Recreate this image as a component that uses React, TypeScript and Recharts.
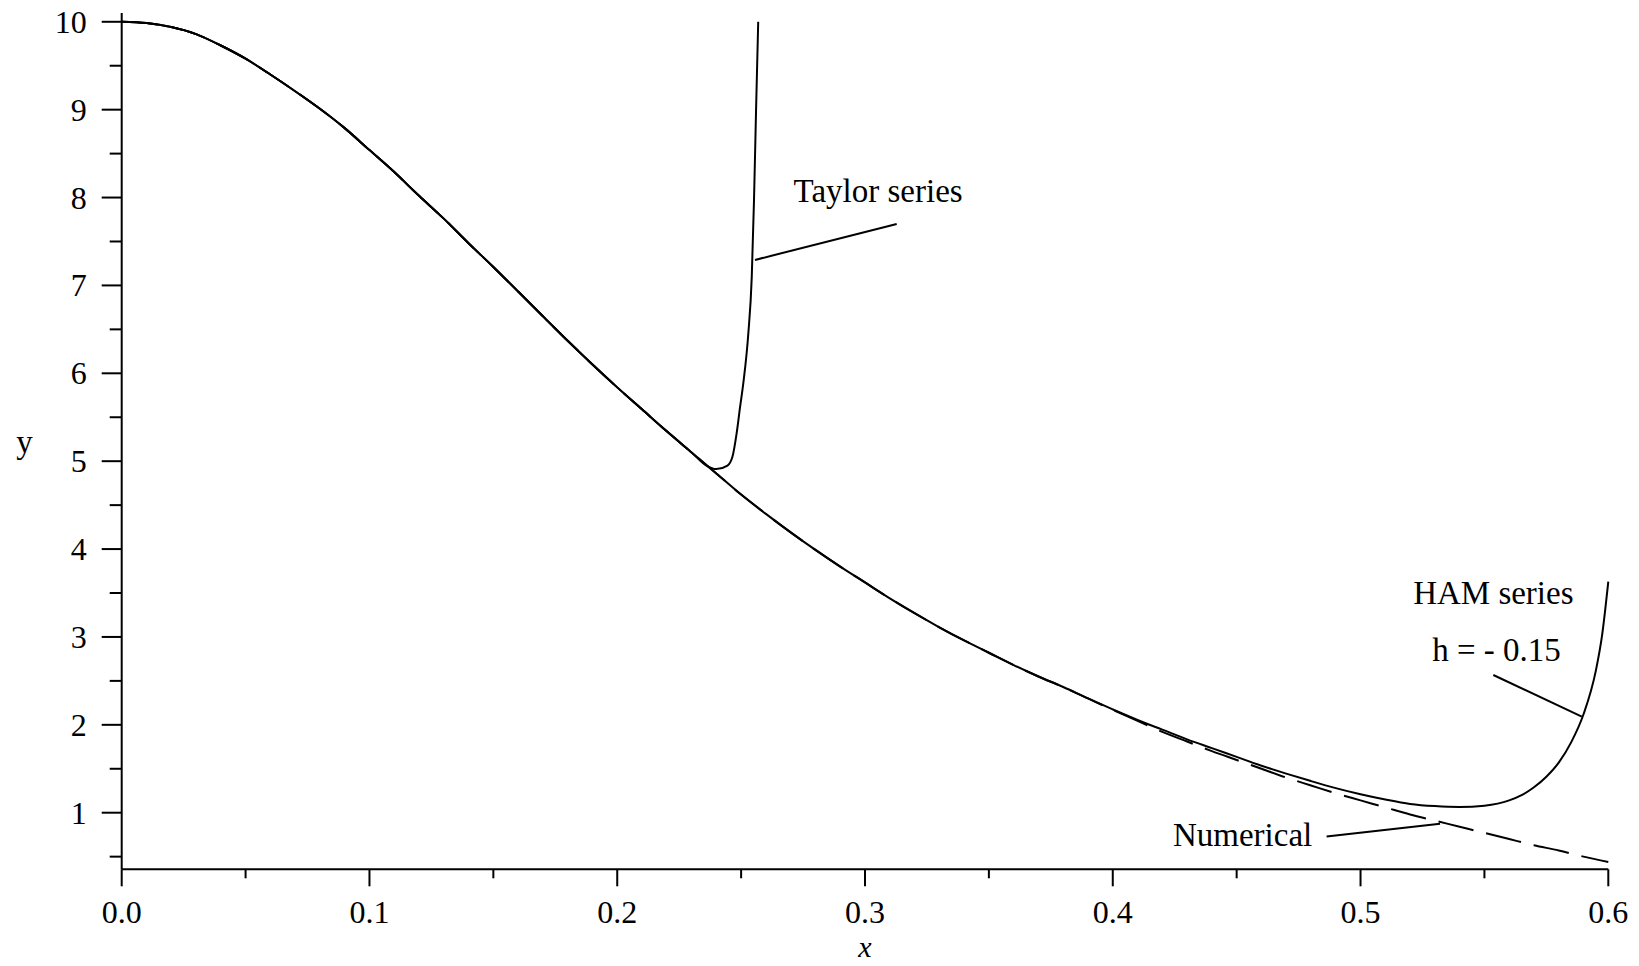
import React from 'react';
import { LineChart, Line, XAxis, YAxis, ReferenceLine, ReferenceDot } from 'recharts';

// ---- data ----
const numX = [0, 0.01, 0.02, 0.03, 0.04, 0.05, 0.06, 0.07, 0.08, 0.09, 0.1, 0.11, 0.12, 0.13, 0.14, 0.15, 0.16, 0.17, 0.18, 0.19, 0.2, 0.21, 0.22, 0.23, 0.24, 0.25, 0.26, 0.27, 0.28, 0.29, 0.3, 0.31, 0.32, 0.33, 0.34, 0.35, 0.36, 0.37, 0.38, 0.39, 0.4, 0.41, 0.42, 0.43, 0.44, 0.45, 0.46, 0.47, 0.48, 0.49, 0.5, 0.51, 0.52, 0.53, 0.54, 0.55, 0.56, 0.57, 0.58, 0.59, 0.6];
const numY = [10, 9.985, 9.94, 9.86, 9.73, 9.58, 9.4, 9.21, 9.01, 8.79, 8.54, 8.29, 8.02, 7.76, 7.48, 7.21, 6.93, 6.65, 6.37, 6.1, 5.84, 5.59, 5.34, 5.1, 4.86, 4.62, 4.4, 4.19, 3.99, 3.8, 3.62, 3.44, 3.27, 3.11, 2.96, 2.82, 2.68, 2.55, 2.43, 2.3, 2.17, 2.045, 1.92, 1.81, 1.7, 1.6, 1.5, 1.4, 1.31, 1.22, 1.14, 1.06, 0.98, 0.91, 0.84, 0.77, 0.7, 0.63, 0.57, 0.5, 0.44];

const hamX = [0, 0.01, 0.02, 0.03, 0.04, 0.05, 0.06, 0.07, 0.08, 0.09, 0.1, 0.11, 0.12, 0.13, 0.14, 0.15, 0.16, 0.17, 0.18, 0.19, 0.2, 0.21, 0.22, 0.23, 0.24, 0.25, 0.26, 0.27, 0.28, 0.29, 0.3, 0.31, 0.32, 0.33, 0.34, 0.35, 0.36, 0.37, 0.38, 0.39, 0.4, 0.41, 0.42, 0.43, 0.44, 0.45, 0.46, 0.47, 0.48, 0.49, 0.5, 0.51, 0.52, 0.53, 0.54, 0.55, 0.56, 0.565, 0.57, 0.575, 0.58, 0.585, 0.59, 0.595, 0.5975, 0.6];
const hamY = [10, 9.985, 9.94, 9.86, 9.73, 9.58, 9.4, 9.21, 9.01, 8.79, 8.54, 8.29, 8.02, 7.76, 7.48, 7.21, 6.93, 6.65, 6.37, 6.1, 5.84, 5.59, 5.34, 5.1, 4.86, 4.62, 4.4, 4.19, 3.99, 3.8, 3.62, 3.44, 3.27, 3.11, 2.96, 2.82, 2.68, 2.55, 2.43, 2.3, 2.175, 2.055, 1.945, 1.835, 1.735, 1.635, 1.535, 1.445, 1.36, 1.28, 1.21, 1.15, 1.1, 1.075, 1.065, 1.08, 1.14, 1.2, 1.29, 1.41, 1.57, 1.8, 2.12, 2.62, 3.02, 3.63];

const taylorX = [0, 0.01, 0.02, 0.03, 0.04, 0.05, 0.06, 0.07, 0.08, 0.09, 0.1, 0.11, 0.12, 0.13, 0.14, 0.15, 0.16, 0.17, 0.18, 0.19, 0.2, 0.21, 0.22, 0.23, 0.236, 0.24, 0.2445, 0.2465, 0.2482, 0.2495, 0.2509, 0.2529, 0.2543, 0.2552, 0.256, 0.2569];
const taylorY = [10, 9.985, 9.94, 9.86, 9.73, 9.58, 9.4, 9.21, 9.01, 8.79, 8.54, 8.29, 8.02, 7.76, 7.48, 7.21, 6.93, 6.65, 6.37, 6.1, 5.84, 5.59, 5.34, 5.1, 4.95, 4.91, 4.95, 5.05, 5.32, 5.6, 5.89, 6.45, 7.1, 7.97, 8.96, 10];

const xTicks = [0, 0.05, 0.1, 0.15, 0.2, 0.25, 0.3, 0.35, 0.4, 0.45, 0.5, 0.55, 0.6];
const yTicks = [0.5, 1, 1.5, 2, 2.5, 3, 3.5, 4, 4.5, 5, 5.5, 6, 6.5, 7, 7.5, 8, 8.5, 9, 9.5, 10];

// annotations: [label, x, y] and pointer segments [x1, y1, x2, y2]
const labelNames = ['Taylor series', 'HAM series', 'h = - 0.15', 'Numerical'];
const labelX = [0.3053, 0.5536, 0.5549, 0.4524];
const labelY = [8.085, 3.512, 2.858, 0.759];
const pointerX1 = [0.2556, 0.5536, 0.4863];
const pointerY1 = [7.29, 2.567, 0.728];
const pointerX2 = [0.3128, 0.5893, 0.5321];
const pointerY2 = [7.70, 2.093, 0.873];

const toRows = (xs: number[], ys: number[]) => xs.map((x, i) => ({ x, y: ys[i] }));
const numData = toRows(numX, numY);
const hamData = toRows(hamX, hamY);
const taylorData = toRows(taylorX, taylorY);

const FONT = '"Liberation Serif", "Times New Roman", serif';

const XTick = (props: any) => {
  const { x, y, payload } = props;
  const v = payload.value as number;
  const major = Math.abs(v * 10 - Math.round(v * 10)) < 1e-6;
  return (
    <g>
      <line x1={x} x2={x} y1={y} y2={y + (major ? 17 : 9)} stroke="#000" strokeWidth={2} />
      {major && (
        <text x={x} y={y + 54} textAnchor="middle" fontFamily={FONT} fontSize={32} fill="#000">
          {v.toFixed(1)}
        </text>
      )}
    </g>
  );
};

const YTick = (props: any) => {
  const { x, y, payload } = props;
  const v = payload.value as number;
  const major = Number.isInteger(v);
  return (
    <g>
      <line x1={x - (major ? 20 : 12)} x2={x} y1={y} y2={y} stroke="#000" strokeWidth={2} />
      {major && (
        <text x={x - 35} y={y + 11} textAnchor="end" fontFamily={FONT} fontSize={32} fill="#000">
          {String(v)}
        </text>
      )}
    </g>
  );
};

export default function App() {
  return (
    <div style={{ width: 1625, height: 958, marginTop: -8, background: '#fff' }}>
      <LineChart
        width={1625}
        height={966}
        margin={{ top: 13, right: 24.7, bottom: 36.7, left: 33.7 }}
        style={{ background: '#fff' }}
      >
        <XAxis
          type="number"
          dataKey="x"
          domain={[0, 0.6]}
          ticks={xTicks}
          interval={0}
          height={60}
          tickSize={0}
          tickMargin={0}
          tickLine={false}
          axisLine={{ stroke: '#000', strokeWidth: 2 }}
          tick={<XTick />}
          label={{ value: 'x', position: 'bottom', offset: 6, fontFamily: FONT, fontSize: 30, fontStyle: 'italic', fill: '#000' }}
        />
        <YAxis
          type="number"
          domain={[0.356, 10.1]}
          ticks={yTicks}
          interval={0}
          width={80}
          tickSize={0}
          tickMargin={0}
          tickLine={false}
          axisLine={{ stroke: '#000', strokeWidth: 2 }}
          tick={<YTick />}
          allowDataOverflow
          label={{ value: 'y', position: 'left', offset: 9, fontFamily: FONT, fontSize: 33, fill: '#000' }}
        />
        <Line data={numData} dataKey="y" type="monotone" stroke="#000" strokeWidth={2} strokeDasharray="36 13" dot={false} activeDot={false} isAnimationActive={false} />
        <Line data={hamData} dataKey="y" type="monotone" stroke="#000" strokeWidth={2} dot={false} activeDot={false} isAnimationActive={false} />
        <Line data={taylorData} dataKey="y" type="monotone" stroke="#000" strokeWidth={2} dot={false} activeDot={false} isAnimationActive={false} />
        {pointerX1.map((px, i) => (
          <ReferenceLine
            key={'p' + i}
            segment={[{ x: px, y: pointerY1[i] }, { x: pointerX2[i], y: pointerY2[i] }]}
            stroke="#000"
            strokeWidth={2}
            ifOverflow="visible"
          />
        ))}
        {labelNames.map((name, i) => (
          <ReferenceDot
            key={'l' + i}
            x={labelX[i]}
            y={labelY[i]}
            r={0}
            fill="none"
            stroke="none"
            ifOverflow="visible"
            label={{ value: name, position: 'center', fontFamily: FONT, fontSize: 33, fill: '#000' }}
          />
        ))}
      </LineChart>
    </div>
  );
}
